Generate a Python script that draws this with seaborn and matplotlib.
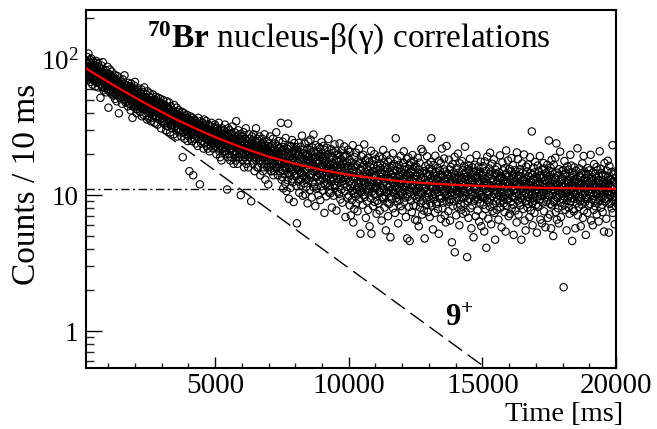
import numpy as np
import matplotlib
matplotlib.use("Agg")
import matplotlib.pyplot as plt
import matplotlib.ticker as mticker
import seaborn as sns

# ---------------- data ----------------
bin_start_ms = 180
bin_step_ms = 10

counts_0_2500 = [
    96, 81, 77, 104, 88, 73, 92, 85, 110, 79,
    86, 71, 94, 83, 99, 76, 68, 89, 80, 101,
    74, 91, 83, 65, 87, 79, 96, 72, 84, 70,
    82, 69, 90, 75, 63, 86, 78, 97, 71, 80,
    67, 84, 73, 79, 92, 62, 76, 70, 88, 81,
    78, 66, 85, 52, 74, 69, 90, 71, 64, 80,
    62, 77, 95, 68, 73, 59, 82, 70, 75, 66,
    74, 61, 70, 83, 57, 67, 79, 72, 64, 88,
    60, 73, 65, 44, 78, 69, 58, 71, 84, 63,
    70, 57, 66, 76, 62, 81, 55, 68, 64, 72,
    59, 69, 74, 54, 65, 61, 77, 67, 51, 70,
    66, 56, 71, 60, 49, 68, 63, 75, 58, 64,
    57, 63, 40, 67, 55, 72, 61, 52, 65, 59,
    62, 53, 68, 58, 47, 64, 56, 71, 60, 51,
    54, 66, 59, 76, 50, 57, 63, 48, 61, 56,
    60, 49, 55, 64, 52, 58, 45, 67, 54, 62,
    51, 59, 47, 56, 63, 53, 42, 58, 66, 50,
    57, 48, 62, 37, 54, 50, 60, 46, 55, 64,
    49, 56, 68, 45, 53, 59, 47, 51, 40, 57,
    54, 43, 52, 58, 48, 61, 46, 50, 55, 44,
    47, 53, 41, 56, 50, 45, 60, 49, 38, 52,
    51, 44, 57, 46, 39, 53, 48, 62, 43, 50,
    45, 52, 40, 49, 55, 43, 47, 36, 51, 58,
    48, 42,
]

counts_2500_5000 = [
    42, 50, 47, 38, 53, 44, 56, 41, 46, 35,
    48, 40, 45, 52, 37, 43, 49, 55, 41, 46,
    39, 47, 44, 34, 50, 42, 46, 38, 53, 43,
    45, 37, 49, 41, 43, 33, 47, 52, 40, 44,
    38, 44, 36, 48, 41, 51, 39, 43, 31, 46,
    43, 35, 41, 47, 37, 40, 50, 34, 44, 39,
    36, 42, 46, 33, 40, 38, 45, 30, 41, 49,
    41, 35, 39, 44, 32, 37, 43, 36, 48, 34,
    35, 40, 29, 38, 45, 36, 33, 41, 37, 31,
    39, 33, 42, 35, 37, 28, 40, 46, 34, 38,
    32, 38, 35, 41, 30, 36, 44, 34, 27, 37,
    37, 31, 39, 34, 42, 29, 35, 33, 40, 36,
    33, 38, 30, 36, 27, 35, 41, 32, 37, 19,
    35, 29, 37, 32, 40, 31, 26, 34, 38, 30,
    31, 36, 28, 34, 39, 30, 33, 25, 37, 32,
    34, 27, 36, 31, 15, 33, 29, 38, 32, 26,
    29, 35, 31, 25, 33, 37, 28, 32, 14, 34,
    33, 28, 30, 36, 26, 32, 29, 35, 24, 31,
    27, 32, 29, 34, 30, 23, 31, 37, 28, 33,
    31, 26, 33, 12, 29, 35, 27, 30, 24, 32,
    28, 32, 25, 30, 34, 27, 29, 22, 31, 36,
    30, 24, 28, 33, 26, 31, 29, 35, 23, 27,
    26, 31, 29, 22, 30, 27, 33, 25, 28, 21,
    29, 25, 32, 27, 23, 30, 26, 34, 24, 28,
    25, 30, 27, 22, 29, 26, 31, 24, 28, 33,
]

counts_5000_7500 = [
    29, 23, 27, 32, 25, 20, 28, 24, 31, 26,
    24, 30, 22, 27, 34, 25, 21, 28, 26, 19,
    27, 23, 29, 25, 18, 26, 31, 22, 28, 24,
    22, 28, 25, 30, 21, 26, 24, 33, 20, 27,
    26, 21, 29, 23, 25, 11, 28, 24, 19, 31,
    23, 27, 20, 25, 30, 22, 26, 18, 24, 28,
    25, 19, 28, 22, 24, 32, 21, 26, 23, 17,
    21, 26, 24, 29, 20, 23, 27, 18, 25, 35,
    24, 20, 27, 22, 17, 25, 23, 30, 19, 26,
    22, 28, 19, 24, 21, 26, 10, 23, 27, 20,
    25, 20, 23, 18, 27, 22, 29, 21, 24, 16,
    19, 24, 22, 26, 20, 31, 23, 17, 25, 21,
    23, 18, 25, 21, 16, 24, 20, 28, 22, 19,
    20, 26, 22, 19, 24, 9, 23, 21, 27, 18,
    22, 17, 24, 20, 28, 19, 23, 21, 15, 25,
    19, 23, 21, 31, 18, 22, 20, 26, 16, 24,
    21, 16, 25, 19, 23, 20, 27, 18, 22, 14,
    18, 22, 20, 24, 17, 21, 26, 19, 23, 15,
    20, 24, 16, 22, 19, 28, 18, 21, 13, 23,
    22, 17, 21, 19, 25, 16, 20, 23, 18, 12,
    18, 21, 24, 16, 20, 19, 27, 17, 22, 15,
    20, 15, 19, 23, 17, 21, 18, 26, 14, 20,
    17, 22, 19, 15, 24, 18, 20, 16, 21, 29,
    19, 16, 21, 18, 23, 14, 20, 17, 25, 18,
    16, 20, 18, 22, 15, 19, 34, 17, 21, 13,
]

counts_7500_10000 = [
    21.4, 13.6, 18.9, 24.7, 15.1, 11.2, 19.8, 16.3, 22.6, 17.0,
    14.2, 20.9, 12.1, 17.5, 26.3, 15.8, 19.4, 10.7, 18.2, 22.0,
    16.7, 12.9, 21.8, 33.6, 14.5, 18.6, 9.4, 20.2, 15.9, 23.1,
    19.5, 14.0, 11.3, 17.8, 22.9, 15.4, 20.6, 13.1, 25.4, 16.2,
    12.4, 18.7, 21.2, 15.0, 8.9, 17.4, 24.1, 14.3, 19.9, 16.6,
    20.4, 13.8, 16.0, 22.5, 11.7, 18.1, 6.2, 15.6, 21.0, 17.2,
    15.3, 19.6, 12.6, 24.2, 17.7, 10.4, 20.8, 14.9, 18.3, 13.0,
    22.7, 16.1, 11.8, 19.0, 14.6, 27.4, 13.3, 17.9, 9.9, 20.3,
    14.0, 18.5, 21.6, 12.2, 16.8, 23.9, 15.2, 10.1, 19.4, 13.7,
    17.6, 11.5, 20.1, 15.5, 13.2, 22.1, 8.7, 18.0, 16.3, 24.8,
    12.8, 19.2, 15.9, 21.5, 10.9, 17.3, 14.1, 25.6, 13.5, 18.8,
    20.6, 14.4, 9.6, 17.1, 22.4, 12.5, 18.4, 15.0, 27.9, 11.4,
    16.4, 21.0, 12.0, 14.8, 19.1, 8.3, 17.5, 23.3, 13.6, 15.3,
    11.1, 18.2, 15.7, 20.8, 13.9, 16.9, 10.0, 22.6, 14.5, 19.5,
    17.8, 12.7, 21.9, 14.2, 9.2, 19.0, 15.8, 11.6, 24.5, 16.1,
    13.4, 20.2, 16.5, 10.8, 18.6, 14.7, 23.0, 12.3, 17.2, 7.4,
    19.3, 14.0, 11.9, 21.4, 15.6, 17.9, 9.8, 16.4, 13.1, 22.2,
    12.2, 17.0, 20.0, 13.8, 25.9, 15.1, 10.5, 18.7, 14.4, 11.7,
    16.6, 10.3, 19.1, 13.0, 15.7, 21.7, 12.6, 8.1, 17.4, 14.8,
    18.9, 13.5, 15.2, 9.9, 20.5, 12.0, 16.8, 23.6, 11.3, 14.1,
    11.8, 16.3, 21.2, 14.5, 7.7, 18.0, 13.2, 15.9, 10.6, 19.7,
    15.4, 20.1, 12.4, 17.5, 10.2, 14.9, 24.0, 13.6, 16.7, 9.3,
    13.1, 18.4, 15.8, 11.0, 21.3, 14.2, 8.8, 17.1, 12.7, 19.2,
    17.7, 12.1, 14.6, 22.8, 10.7, 16.0, 13.4, 19.6, 6.9, 15.2,
    12.9, 15.8, 19.8, 11.5, 14.0, 17.3, 9.6, 21.5, 13.3, 16.4,
]

counts_10000_12500 = [
    15.5, 9.9, 12.6, 18.2, 8.4, 14.0, 20.8, 11.3, 7.1, 15.9,
    12.1, 17.4, 9.2, 14.6, 10.7, 23.3, 13.1, 6.3, 15.2, 10.3,
    13.8, 7.9, 19.0, 11.7, 16.3, 9.8, 13.5, 20.5, 8.7, 14.9,
    11.0, 16.6, 12.8, 7.6, 17.7, 12.2, 10.1, 14.4, 21.9, 11.5,
    9.3, 13.9, 17.1, 10.8, 5.2, 15.4, 12.4, 19.3, 10.5, 13.3,
    16.0, 11.4, 8.5, 13.7, 19.8, 10.0, 12.7, 16.7, 23.6, 11.9,
    9.7, 14.8, 12.3, 18.1, 6.8, 13.6, 10.9, 15.7, 9.0, 14.3,
    13.0, 18.7, 10.4, 7.8, 15.1, 11.8, 17.5, 11.1, 5.9, 14.5,
    11.6, 16.2, 9.5, 12.9, 21.2, 5.2, 14.2, 10.6, 17.9, 12.0,
    15.0, 8.3, 12.5, 16.8, 10.2, 13.4, 20.0, 8.9, 13.8, 11.2,
    10.1, 14.1, 18.4, 11.5, 7.3, 15.6, 12.2, 9.1, 16.5, 12.7,
    12.3, 8.7, 15.3, 10.7, 19.2, 13.1, 7.7, 17.0, 10.4, 14.6,
    15.8, 11.3, 13.6, 6.5, 14.4, 9.7, 18.6, 12.0, 9.4, 21.5,
    9.6, 13.2, 11.0, 17.3, 8.1, 14.9, 12.6, 9.9, 16.1, 5.5,
    14.0, 10.5, 19.6, 11.8, 15.5, 8.8, 13.3, 7.0, 17.6, 11.4,
    10.8, 14.7, 8.6, 13.0, 18.3, 11.6, 4.9, 15.9, 9.8, 14.2,
    13.5, 9.3, 16.4, 11.1, 12.4, 20.3, 8.0, 14.6, 10.6, 16.9,
    10.3, 13.8, 11.7, 7.4, 15.3, 10.9, 26.2, 9.5, 12.8, 16.3,
    15.1, 11.2, 9.0, 18.0, 12.5, 6.2, 13.7, 10.0, 16.7, 12.1,
    9.2, 13.6, 15.7, 10.7, 19.4, 8.3, 12.3, 14.8, 10.4, 12.9,
    12.6, 7.7, 14.3, 10.1, 17.2, 11.5, 21.0, 8.9, 13.2, 15.4,
    10.9, 16.1, 9.6, 13.4, 6.9, 14.0, 11.8, 18.5, 10.2, 4.8,
    14.4, 9.7, 12.1, 18.9, 11.0, 15.6, 8.2, 12.7, 4.6, 16.6,
    10.5, 13.3, 17.4, 9.1, 14.5, 11.3, 7.5, 15.0, 11.9, 19.7,
    11.7, 15.5, 8.4, 10.8, 17.8, 13.0, 9.9, 16.2, 6.6, 13.9,
]

counts_12500_15000 = [
    13.1, 8.3, 10.7, 16.2, 9.4, 14.0, 6.5, 11.9, 18.8, 10.1,
    11.3, 15.4, 5.9, 12.4, 9.6, 17.3, 12.7, 8.1, 14.3, 10.5,
    8.8, 13.3, 21.8, 10.4, 14.7, 7.2, 11.6, 20.9, 9.1, 13.5,
    12.0, 7.7, 15.0, 11.1, 4.8, 12.9, 9.8, 16.3, 11.4, 8.5,
    14.5, 10.8, 9.2, 19.3, 12.2, 7.5, 13.7, 10.3, 16.8, 12.6,
    9.7, 15.7, 11.7, 6.9, 14.2, 10.6, 8.7, 17.5, 13.3, 26.2,
    11.5, 8.4, 15.3, 10.0, 13.0, 5.6, 11.2, 16.6, 9.3, 13.9,
    14.4, 10.2, 7.4, 12.3, 19.5, 10.9, 14.8, 8.6, 12.5, 11.0,
    8.9, 13.2, 10.5, 15.9, 7.9, 13.6, 11.8, 5.2, 17.9, 9.9,
    12.7, 15.1, 9.4, 11.3, 17.2, 6.7, 12.1, 14.1, 9.5, 22.0,
    11.1, 8.0, 13.8, 11.6, 8.8, 15.5, 10.4, 18.6, 12.9, 7.1,
    14.9, 10.7, 12.5, 6.3, 12.0, 9.1, 23.0, 10.1, 14.3, 11.4,
    9.8, 14.1, 7.6, 13.1, 10.9, 18.2, 8.9, 12.2, 15.4, 6.5,
    12.4, 9.3, 16.1, 10.5, 13.7, 10.0, 4.5, 12.8, 11.3, 16.9,
    8.3, 12.6, 11.1, 14.7, 9.0, 11.7, 19.1, 3.8, 14.0, 10.2,
    13.5, 10.8, 7.1, 12.1, 15.8, 9.6, 13.2, 8.2, 10.6, 20.2,
    10.9, 14.6, 9.2, 13.4, 6.0, 11.5, 17.1, 10.3, 13.9, 8.5,
    13.0, 7.8, 11.9, 9.7, 17.8, 11.2, 15.2, 7.3, 12.4, 10.7,
    9.5, 14.2, 16.4, 8.7, 11.8, 22.7, 10.5, 13.1, 7.5, 14.5,
    12.2, 9.9, 13.6, 3.5, 11.4, 15.6, 9.0, 12.7, 6.8, 16.5,
    15.1, 9.4, 11.5, 10.9, 18.5, 8.0, 14.4, 10.1, 13.3, 5.7,
    10.6, 12.8, 8.4, 16.0, 9.8, 14.0, 12.3, 4.9, 14.7, 11.3,
    9.1, 16.7, 11.6, 10.4, 13.4, 7.0, 15.0, 11.0, 19.7, 9.6,
    13.8, 11.2, 7.7, 12.5, 9.3, 16.2, 12.0, 14.4, 6.4, 10.5,
    12.1, 8.8, 14.9, 10.0, 17.6, 11.3, 5.9, 12.9, 9.7, 14.1,
]

counts_15000_17500 = [
    11.4, 7.1, 13.9, 9.7, 16.3, 8.5, 12.6, 5.4, 11.8, 17.7,
    9.5, 13.2, 7.9, 11.1, 15.1, 4.1, 12.3, 9.2, 19.2, 10.7,
    13.6, 10.1, 6.7, 12.0, 8.9, 15.7, 10.5, 14.3, 8.2, 20.5,
    9.4, 11.7, 14.9, 6.1, 11.2, 13.3, 9.8, 17.0, 7.6, 12.4,
    12.8, 8.6, 10.9, 18.3, 10.2, 7.4, 14.1, 11.5, 4.7, 15.4,
    10.8, 14.4, 9.0, 12.2, 7.8, 16.1, 10.4, 13.0, 9.3, 11.3,
    6.6, 11.9, 14.7, 9.9, 13.4, 8.8, 19.6, 11.0, 8.1, 13.8,
    11.6, 10.3, 5.8, 13.5, 10.6, 17.4, 9.1, 12.7, 9.6, 15.2,
    8.7, 13.1, 11.4, 7.5, 15.8, 12.1, 10.0, 5.4, 14.2, 21.3,
    12.5, 8.3, 14.5, 10.7, 9.2, 12.3, 18.0, 9.5, 7.0, 13.7,
    10.2, 15.6, 11.8, 7.3, 12.9, 10.5, 8.9, 15.0, 11.2, 18.7,
    8.0, 11.5, 14.0, 9.7, 16.6, 8.5, 13.2, 5.1, 12.4, 10.9,
    14.3, 9.8, 11.1, 15.3, 7.7, 12.6, 10.3, 12.0, 6.3, 20.6,
    10.6, 13.3, 9.1, 18.4, 11.7, 7.2, 13.9, 10.1, 14.8, 8.8,
    12.2, 8.4, 15.5, 10.9, 9.5, 13.6, 4.7, 12.8, 11.3, 17.1,
    9.3, 14.6, 10.7, 7.9, 13.0, 11.6, 19.9, 9.9, 6.5, 14.2,
    12.7, 10.4, 5.5, 12.1, 16.2, 9.0, 11.4, 14.9, 9.7, 8.1,
    11.0, 16.8, 8.6, 13.8, 10.2, 12.5, 6.9, 11.8, 19.0, 9.4,
    14.5, 7.7, 12.4, 10.0, 11.3, 29.4, 8.7, 14.1, 6.0, 12.9,
    9.6, 13.2, 15.9, 9.1, 11.5, 7.4, 14.7, 10.8, 17.5, 10.3,
    11.9, 8.5, 13.7, 11.1, 5.3, 13.4, 9.8, 16.5, 8.2, 12.2,
    8.4, 15.1, 10.5, 12.6, 9.3, 19.4, 12.0, 6.6, 14.0, 10.1,
    13.3, 9.9, 11.7, 6.2, 15.4, 11.0, 8.8, 13.5, 10.6, 17.2,
    10.5, 7.6, 15.7, 12.1, 9.6, 12.8, 5.8, 11.4, 14.5, 8.9,
    13.9, 11.6, 9.2, 16.7, 10.9, 6.8, 13.1, 10.0, 15.2, 25.2,
]

counts_17500_20000 = [
    10.0, 13.7, 7.2, 11.9, 8.6, 15.9, 10.8, 5.7, 13.1, 18.1,
    11.5, 8.4, 14.8, 10.3, 12.7, 5.0, 11.1, 16.7, 8.9, 13.5,
    9.1, 12.4, 10.6, 18.8, 7.5, 13.3, 9.7, 24.0, 11.8, 6.6,
    14.6, 9.5, 12.1, 8.0, 13.9, 10.9, 6.2, 15.5, 10.1, 12.5,
    11.2, 20.9, 8.8, 12.8, 6.9, 11.6, 10.2, 15.0, 8.3, 10.7,
    13.2, 9.3, 11.4, 15.3, 2.1, 12.3, 9.8, 17.8, 8.5, 14.1,
    7.8, 12.0, 10.4, 14.4, 11.0, 5.5, 12.9, 9.2, 16.3, 10.5,
    12.2, 9.6, 15.4, 8.1, 12.6, 11.1, 7.3, 13.8, 9.9, 19.8,
    9.0, 13.4, 10.7, 16.5, 9.5, 11.8, 4.6, 14.6, 11.3, 7.9,
    14.0, 10.5, 7.6, 12.4, 16.0, 9.4, 13.0, 10.1, 5.7, 11.7,
    10.3, 15.1, 11.5, 8.7, 13.2, 10.8, 22.1, 7.1, 12.1, 9.5,
    12.5, 8.2, 11.0, 15.7, 9.8, 13.7, 9.0, 11.9, 5.9, 14.5,
    10.6, 13.5, 8.5, 12.2, 17.1, 10.0, 6.8, 12.7, 11.2, 19.4,
    7.7, 11.6, 14.9, 10.4, 13.3, 8.9, 11.4, 5.1, 14.3, 9.7,
    12.0, 9.4, 12.8, 7.4, 15.8, 10.7, 9.5, 14.2, 8.4, 12.3,
    15.2, 10.2, 11.7, 8.6, 11.1, 19.8, 13.1, 6.5, 10.5, 13.6,
    9.3, 12.6, 10.9, 6.0, 14.7, 9.9, 12.1, 7.8, 16.9, 11.4,
    11.8, 8.3, 14.4, 10.6, 9.1, 13.4, 10.3, 16.1, 7.2, 11.5,
    10.1, 15.3, 8.8, 12.3, 11.0, 6.4, 13.8, 9.6, 12.9, 21.0,
    12.7, 9.2, 11.3, 15.6, 8.1, 12.0, 10.4, 14.5, 8.5, 10.8,
    7.5, 12.4, 14.1, 9.8, 12.5, 5.4, 11.2, 17.2, 9.4, 11.6,
    10.9, 13.9, 9.0, 12.1, 6.7, 15.1, 10.2, 12.8, 10.5, 17.9,
    13.6, 9.5, 12.2, 5.3, 10.7, 16.4, 8.6, 13.1, 10.0, 11.5,
    8.8, 13.0, 10.5, 14.8, 8.0, 11.7, 10.3, 23.3, 7.4, 11.1,
    12.4, 9.7, 14.2, 9.1, 12.6, 6.1, 11.4, 14.9, 9.9, 8.3,
]

# fit curve (total)
fit_t = [170, 500, 1000, 1500, 2000, 2500, 3000, 3500, 4000, 4500, 5000,
         6000, 7000, 8000, 9000, 10000, 11000, 12000, 13000, 14000,
         16000, 18000, 20000]
fit_y = [85.5, 78.0, 68.0, 59.5, 52.3, 46.1, 40.9, 36.4, 32.7, 29.5, 26.7,
         22.4, 19.2, 17.0, 15.3, 14.1, 13.3, 12.6, 12.2, 11.9,
         11.45, 11.24, 11.13]
# 9+ decay component (dashed), end points
decay_t = [170, 15500]
decay_y = [74.5, 0.474]
# constant background (dash-dot)
bkg_t = [170, 20000]
bkg_y = [11.07, 11.07]

y_ticks = [1, 10, 100]
y_ticklabels = ["1", "10", r"$\mathregular{10^{2}}$"]
x_ticks = [5000, 10000, 15000, 20000]
x_ticklabels = ["5000", "10000", "15000", "20000"]

# ---------------- style ----------------
sns.set_theme(style="white")
plt.rcParams["font.family"] = ["Liberation Serif", "DejaVu Serif"]
plt.rcParams["mathtext.fontset"] = "custom"
plt.rcParams["mathtext.rm"] = "Liberation Serif"
plt.rcParams["mathtext.it"] = "Liberation Serif:italic"
plt.rcParams["mathtext.bf"] = "Liberation Serif:bold"

counts = np.array(counts_0_2500 + counts_2500_5000 + counts_5000_7500
                  + counts_7500_10000 + counts_10000_12500 + counts_12500_15000
                  + counts_15000_17500 + counts_17500_20000, dtype=float)
time_ms = bin_start_ms + bin_step_ms * np.arange(len(counts))

fig = plt.figure(figsize=(6.57, 4.29), dpi=100)
fig.patch.set_facecolor("white")
W, H = 657.0, 429.0
ax = fig.add_axes([86 / W, 1 - 368 / H, (616 - 86) / W, (368 - 10) / H])
ax.set_facecolor("white")

sns.lineplot(x=bkg_t, y=bkg_y, ax=ax, color="black", linewidth=1.0, zorder=2)
ax.lines[-1].set_dashes([6, 2.5, 1.5, 2.5])

sns.scatterplot(x=time_ms, y=counts, ax=ax, marker="o", s=28,
                facecolors="none", edgecolor="black", linewidth=0.8,
                zorder=3, legend=False)
ax.collections[-1].set_facecolor("none")

sns.lineplot(x=decay_t, y=decay_y, ax=ax, color="black", linewidth=1.0, zorder=4)
ax.lines[-1].set_dashes([12, 5])

sns.lineplot(x=fit_t, y=fit_y, ax=ax, color="#ff0000", linewidth=1.6, zorder=5)

ax.set_yscale("log")
ax.set_xlim(170, 20000)
ax.set_ylim(0.535, 230)

ax.yaxis.set_major_locator(mticker.FixedLocator(y_ticks))
ax.yaxis.set_major_formatter(mticker.FixedFormatter(y_ticklabels))
ax.yaxis.set_minor_locator(mticker.LogLocator(base=10, subs=np.arange(2, 10), numticks=20))
ax.yaxis.set_minor_formatter(mticker.NullFormatter())
ax.xaxis.set_major_locator(mticker.FixedLocator(x_ticks))
ax.xaxis.set_major_formatter(mticker.FixedFormatter(x_ticklabels))
ax.xaxis.set_minor_locator(mticker.MultipleLocator(1000))

ax.tick_params(axis="y", which="major", direction="in", length=11.5, width=1.0,
               labelsize=19.5, pad=5.5, left=True, right=False, colors="black")
ax.tick_params(axis="y", which="minor", direction="in", length=5.8, width=1.0,
               left=True, right=False)
ax.tick_params(axis="x", which="major", direction="in", length=7.7, width=1.0,
               labelsize=21, pad=3.5, bottom=True, top=False, colors="black")
ax.tick_params(axis="x", which="minor", direction="in", length=3.9, width=1.0,
               bottom=True, top=False)
for sp in ax.spines.values():
    sp.set_visible(True)
    sp.set_color("black")
    sp.set_linewidth(1.5)
ax.set_xlabel("")
ax.set_ylabel("")

fig.text(147 / W, 1 - 48 / H,
         r"$^{\mathbf{70}}\mathbf{Br}$ nucleus-β(γ) correlations",
         ha="left", va="baseline", fontsize=24, color="black")
fig.text(445 / W, 1 - 326 / H, r"$\mathbf{9^{+}}$",
         ha="left", va="baseline", fontsize=22, color="black")
fig.text(623 / W, 1 - 421 / H, "Time [ms]", ha="right", va="baseline",
         fontsize=20.5, color="black")
fig.text(27 / W, 1 - 184 / H, "Counts / 10 ms", rotation=90,
         ha="center", va="center", fontsize=24, color="black")

fig.savefig("out.png", dpi=100, facecolor="white")
